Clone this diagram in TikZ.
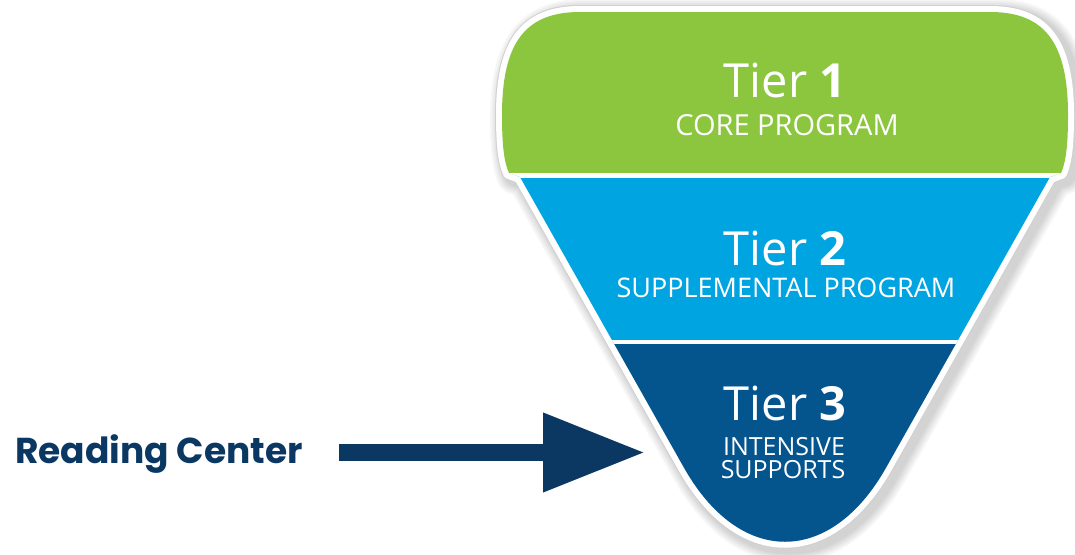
\documentclass[tikz,border=0pt]{standalone}
\usepackage{fontspec}
\usepackage{tikz}
\usetikzlibrary{arrows.meta}
\newfontfamily\tierfont{Open Sans}
\newfontfamily\labelfont{Poppins}
\definecolor{tiergreen}{RGB}{140,198,63}
\definecolor{tierblue}{RGB}{0,164,224}
\definecolor{tierdark}{RGB}{4,84,142}
\definecolor{navy}{RGB}{10,56,99}
\def\funnelshape{(580,12) -- (990,12) .. controls (1045,12) and (1068,43) .. (1068,115) .. controls (1068,145) and (1066,162) .. (1061,173) -- (1050,177) -- (887,466) .. controls (831,567) and (739,567) .. (683,466) -- (520,177) -- (509,173) .. controls (504,162) and (502,145) .. (502,115) .. controls (502,43) and (525,12) .. (580,12) -- cycle}
\tikzset{
  tiertitle/.style={text=white, inner sep=0pt, anchor=base, font=\tierfont\fontsize{47}{47}\selectfont},
  tiersub/.style={text=white, inner sep=0pt, anchor=base, font=\tierfont\fontsize{#1}{#1}\selectfont},
  bigarrow/.style={navy, line width=17pt, -{Triangle[length=102pt,width=75pt]}}
}
\begin{document}
\begin{tikzpicture}[x=1pt,y=-1pt]
\fill[white] (0,0) rectangle (1075,554);
\useasboundingbox (0,0) rectangle (1075,554);

\foreach \w in {34,30,26,22,18} {
  \draw[black, opacity=0.035, line width=\w pt, line join=round, shift={(5,4)}] \funnelshape;
}
\draw[black!18, line width=14pt, line join=round] \funnelshape;
\draw[white, line width=12pt, line join=round] \funnelshape;
\begin{scope}
  \clip \funnelshape;
  \fill[tiergreen] (480,0) rectangle (1090,175.5);
  \fill[tierblue] (480,175.5) rectangle (1090,342);
  \fill[tierdark] (480,342) rectangle (1090,560);
  \draw[white, line width=5pt] (480,175.5) -- (1090,175.5);
  \draw[white, line width=4.5pt] (480,342) -- (1090,342);
\end{scope}

\node[tiertitle] (tier1) at (785,97) {Tier \textbf{1}};
\node[tiersub=29] (core) at (787,135) {CORE PROGRAM};
\node[tiertitle] (tier2) at (785,265) {Tier \textbf{2}};
\node[tiersub=27] (supplemental) at (786,297) {SUPPLEMENTAL PROGRAM};
\node[tiertitle] (tier3) at (785,420) {Tier \textbf{3}};
\node[tiersub=25] (intensive) at (784,455) {INTENSIVE};
\node[tiersub=25] (supports) at (783,478) {SUPPORTS};

\node[text=navy, inner sep=0pt, anchor=base west, font=\labelfont\bfseries\fontsize{36}{36}\selectfont] (reading) at (15,463) {Reading Center};
\coordinate (tip) at (645,452.5);
\draw[bigarrow, shorten <=36pt] (reading.east |- tip) -- (tip);
\end{tikzpicture}
\end{document}
